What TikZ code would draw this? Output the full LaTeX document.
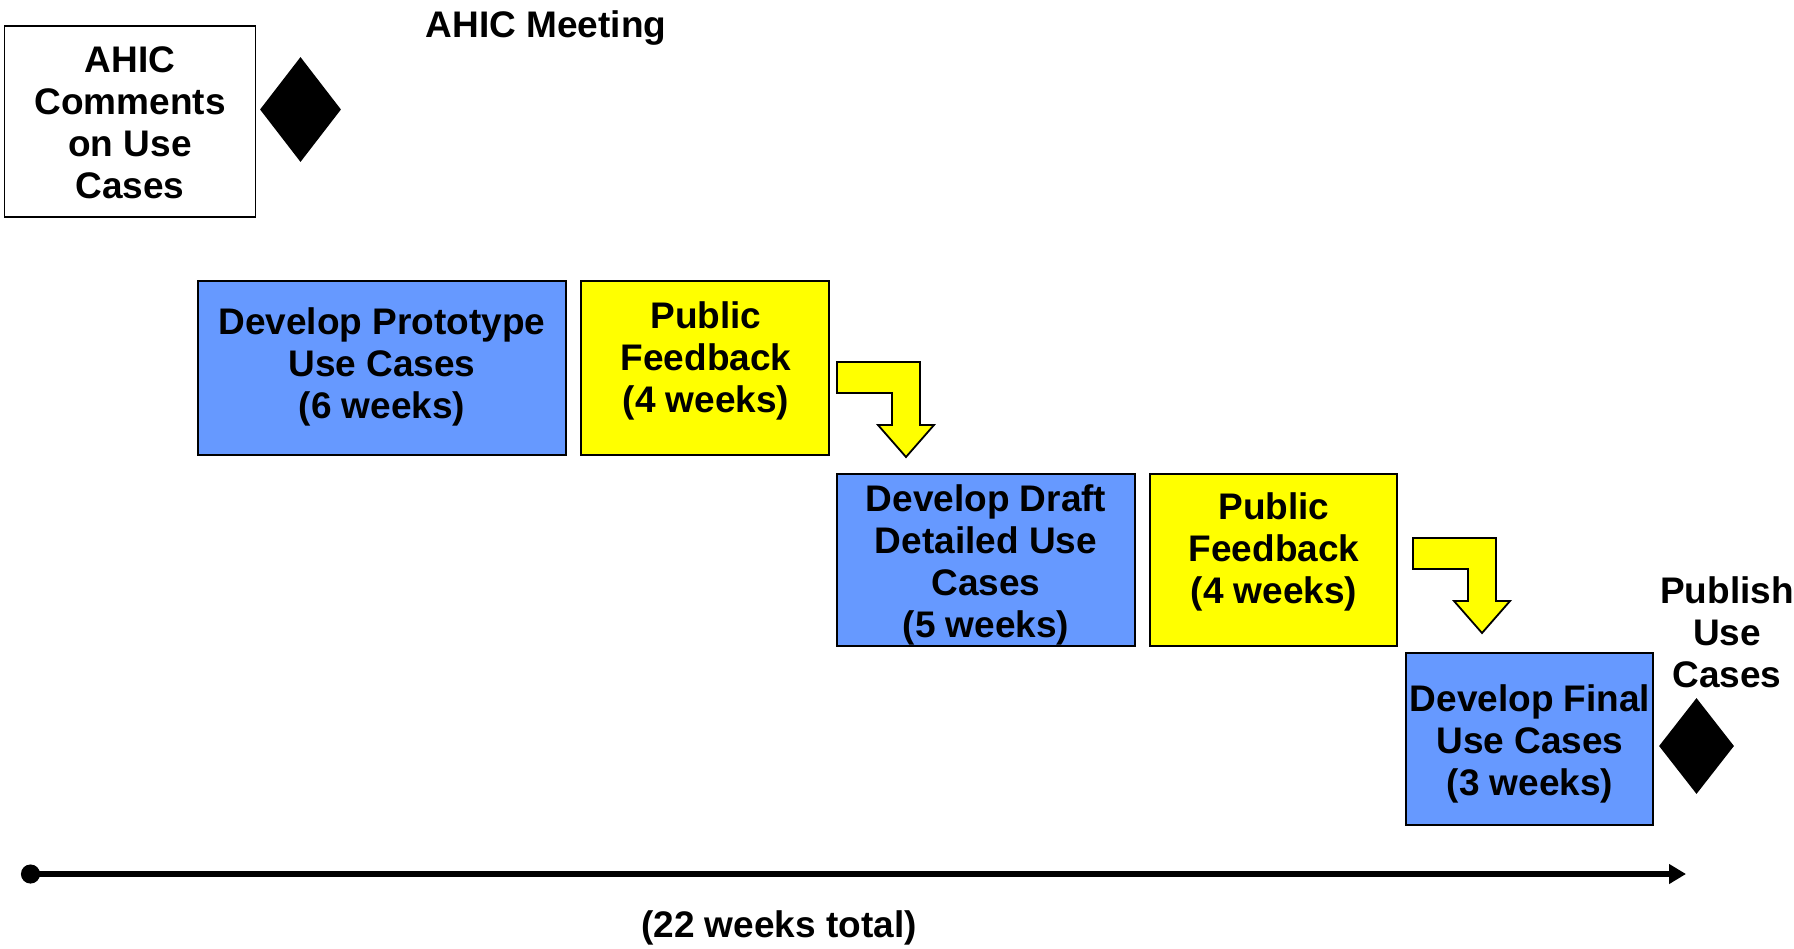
\documentclass[tikz,border=0pt]{standalone}
\usepackage{fontspec}
\setmainfont{Liberation Sans}
\usetikzlibrary{shapes.geometric,arrows.meta}
\definecolor{boxblue}{RGB}{102,153,255}
\definecolor{boxyellow}{RGB}{255,255,0}
\tikzset{
  x=1pt,y=-1pt,
  phasebox/.style={draw=black,line width=2pt,inner sep=0pt},
  bluebox/.style={phasebox,fill=boxblue},
  yellowbox/.style={phasebox,fill=boxyellow},
  whitebox/.style={phasebox,fill=white,line width=1.6pt},
  txt/.style={inner sep=0pt,align=center,font=\fontsize{37}{42}\selectfont\bfseries},
  milestone/.style={diamond,fill=black,inner sep=0pt},
  bentarrow/.style={draw=black,line width=1.8pt,fill=boxyellow,line join=miter},
  timeline/.style={line width=5.5pt,{Circle[length=19pt]}-{Triangle[length=17pt,width=19pt]}}
}
\begin{document}
\begin{tikzpicture}
\useasboundingbox (0,0) rectangle (1794,948);
% boxes
\node[whitebox,minimum width=251pt,minimum height=191pt] (ahic) at (130,121.5) {};
\node[bluebox,minimum width=368pt,minimum height=174pt] (b1) at (382,368) {};
\node[yellowbox,minimum width=248pt,minimum height=174pt] (y1) at (705,368) {};
\node[bluebox,minimum width=298pt,minimum height=172pt] (b2) at (986,560) {};
\node[yellowbox,minimum width=247pt,minimum height=172pt] (y2) at (1273.5,560) {};
\node[bluebox,minimum width=247pt,minimum height=172pt] (b3) at (1529.5,739) {};
% texts
\node[txt] (tahic) at (130,122.5) {AHIC\\Comments\\on Use\\Cases};
\node[txt] (tmeet) at (546,28) {AHIC Meeting};
\node[txt] (tb1) at (382,367) {Develop Prototype\\Use Cases\\(6 weeks)};
\node[txt] (ty1) at (706,361) {Public\\Feedback\\(4 weeks)};
\node[txt] (tb2) at (986,565) {Develop Draft\\Detailed Use\\Cases\\(5 weeks)};
\node[txt] (ty2) at (1274,552) {Public\\Feedback\\(4 weeks)};
\node[txt] (tb3) at (1530,744) {Develop Final\\Use Cases\\(3 weeks)};
\node[txt] (tpub) at (1727,632) {Publish\\Use\\Cases};
\node[txt] (ttotal) at (779,928) {(22 weeks total)};
% milestones
\node[milestone,minimum width=81pt,minimum height=105pt] (m1) at (300.5,109.5) {};
\node[milestone,minimum width=75pt,minimum height=96pt] (m2) at (1696.5,746) {};
% bent arrows
\coordinate (a1) at (837,362);
\coordinate (a2) at (1413,538);
\foreach \o in {a1,a2}{
  \draw[bentarrow,shift={(\o)}] (0,0) -- (83,0) -- (83,63) -- (97,63) -- (69,95) -- (41,63) -- (55,63) -- (55,31) -- (0,31) -- cycle;
}
% timeline
\coordinate (tl0) at (21,874);
\coordinate (tl1) at (1686,874);
\draw[timeline] (tl0) -- (tl1);
\end{tikzpicture}
\end{document}
